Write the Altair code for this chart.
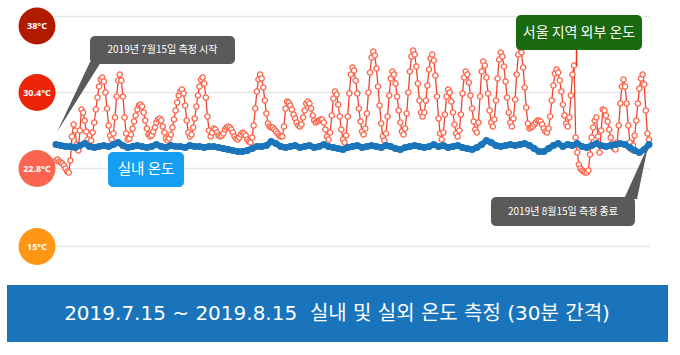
import altair as alt
import pandas as pd

KR = "Noto Sans CJK KR"
BANNER_FONT = "'DejaVu Sans', 'Noto Sans CJK KR'"

# Outdoor (Seoul) temperature, one reading per 2 hours
outdoor_temp = [
    23.6, 23.7, 23.5, 23.4, 23.3, 23.1, 22.8, 22.5, 22.4, 23.6, 26.0, 27.2,
    26.6, 25.2, 24.6, 26.6, 28.7, 28.4, 27.6, 26.5, 25.7, 25.4, 25.6, 26.4,
    27.4, 28.7, 29.9, 31.0, 31.7, 31.9, 31.5, 30.4, 28.8, 27.1, 26.1, 25.7,
    26.3, 27.9, 30.0, 31.6, 32.2, 31.6, 30.0, 27.9, 26.3, 25.7, 25.8, 26.2,
    26.8, 27.5, 28.1, 28.7, 29.1, 29.2, 29.0, 28.4, 27.6, 26.8, 26.2, 26.0,
    26.1, 26.5, 26.9, 27.4, 27.7, 27.8, 27.6, 27.0, 26.4, 25.8, 25.6, 25.8,
    26.2, 26.9, 27.7, 28.6, 29.4, 30.1, 30.5, 30.7, 30.3, 29.1, 27.6, 26.4,
    26.0, 26.2, 26.9, 27.8, 29.0, 30.1, 31.0, 31.7, 31.9, 31.3, 29.9, 28.0,
    26.6, 26.0, 26.4, 26.8, 26.7, 26.4, 26.1, 26.0, 26.1, 26.3, 26.7, 26.9,
    27.0, 26.9, 26.7, 26.4, 26.0, 25.8, 25.7, 25.9, 26.2, 26.4, 26.3, 26.1,
    25.7, 25.5, 25.4, 25.9, 27.1, 28.8, 30.5, 31.7, 32.2, 31.8, 30.9, 29.6,
    28.3, 27.3, 27.0, 26.9, 26.9, 26.7, 26.5, 26.3, 26.1, 26.0, 26.0, 27.0,
    28.8, 29.5, 29.4, 29.1, 28.7, 28.2, 27.8, 27.4, 27.1, 27.0, 27.2, 27.9,
    28.6, 29.3, 29.5, 29.3, 28.8, 28.1, 27.6, 27.4, 27.5, 27.6, 27.7, 27.7,
    27.4, 26.7, 26.0, 25.7, 26.4, 28.1, 29.8, 30.5, 30.2, 29.2, 28.0, 26.7,
    25.7, 25.4, 26.1, 28.0, 30.3, 32.2, 32.9, 32.6, 31.6, 30.3, 28.8, 27.5,
    26.5, 26.2, 26.8, 28.3, 30.4, 32.4, 33.9, 34.5, 34.1, 32.8, 31.0, 29.1,
    27.3, 26.0, 25.6, 26.3, 28.0, 30.1, 31.8, 32.5, 32.2, 31.3, 30.0, 28.6,
    27.4, 26.5, 26.2, 26.8, 28.3, 30.4, 32.5, 34.0, 34.6, 34.2, 33.0, 31.3,
    29.6, 28.4, 28.0, 28.4, 29.6, 31.1, 32.7, 33.8, 34.2, 33.6, 32.1, 30.0,
    27.8, 26.3, 25.7, 26.4, 28.2, 30.0, 30.7, 30.4, 29.5, 28.4, 27.2, 26.3,
    26.0, 26.6, 28.2, 30.3, 31.9, 32.5, 32.2, 31.4, 30.1, 28.8, 27.5, 26.7,
    26.4, 27.4, 30.0, 32.5, 33.5, 33.1, 31.9, 30.3, 28.6, 27.4, 27.0, 27.7,
    29.6, 31.8, 33.7, 34.4, 34.0, 33.0, 31.5, 29.9, 28.4, 27.4, 27.0, 27.8,
    29.7, 32.2, 34.2, 34.9, 34.4, 32.9, 30.9, 28.9, 27.3, 26.8, 26.9, 27.0,
    27.2, 27.4, 27.6, 27.6, 27.5, 27.2, 26.8, 26.5, 26.4, 26.8, 28.0, 29.6,
    31.1, 32.3, 32.7, 32.4, 31.6, 30.5, 29.2, 28.1, 27.3, 27.0, 27.9, 30.1,
    32.2, 33.1, 25.9, 24.4, 23.2, 22.8, 22.6, 22.5, 22.4, 22.4, 22.6, 24.2,
    25.9, 26.9, 27.6, 27.9, 26.0, 24.4, 26.6, 28.7, 28.6, 28.1, 27.5, 26.7,
    25.9, 25.3, 24.8, 24.7, 25.4, 27.1, 29.3, 31.0, 31.7, 31.0, 29.3, 27.1,
    25.4, 24.7, 25.1, 26.1, 27.6, 29.3, 30.8, 31.8, 32.2, 31.2, 28.6, 26.3,
    25.7,
]

# Indoor temperature, one reading per 6 hours
indoor_temp = [
    25.2, 25.1, 25.0, 25.0, 24.9, 25.1, 25.3, 25.0, 24.9, 25.0,
    25.1, 25.0, 25.2, 25.4, 25.1, 24.9, 25.0, 25.1,
    25.0, 24.9, 25.0, 25.2, 25.0, 24.9, 25.1, 25.0, 25.0, 24.9, 25.1, 25.0, 25.0,
    24.9, 25.0, 25.0, 24.9, 24.8, 24.7, 24.6, 24.5,
    24.5, 24.6, 24.8, 25.0,
    25.0, 25.1, 25.5, 25.3, 25.0, 24.9, 25.0, 25.1, 24.9,
    25.0, 25.1, 24.9, 25.0, 25.2, 25.0, 24.9, 24.8, 24.7,
    24.9, 25.0, 25.1, 24.9, 25.0, 25.1, 25.0, 24.9, 25.1, 25.0, 24.8, 24.7,
    24.9, 25.0, 25.1, 25.0, 24.9, 25.0, 25.2, 25.0, 25.1, 24.9, 25.0, 25.1, 24.9, 24.8, 24.7,
    24.9, 25.2, 25.6, 25.4, 25.1, 25.0,
    25.1, 25.2, 25.1, 25.2, 25.3, 25.1, 24.8, 24.5,
    24.5, 24.8, 25.1, 25.3, 25.0, 25.2, 25.1, 25.3, 25.0, 24.9, 25.1, 25.3, 25.1,
    25.0, 25.1, 25.2, 25.3, 25.2, 24.9, 24.6, 24.4, 24.7, 25.2,
]

grid_temps = [15, 22.8, 30.4, 38]
grid_labels = ["15°C", "22.8°C", "30.4°C", "38°C"]
grid_colors = ["#ff9616", "#fa6450", "#ec2408", "#b21a00"]

out_df = pd.DataFrame({"h": [2 * i for i in range(len(outdoor_temp))], "t": outdoor_temp})
in_df = pd.DataFrame({"h": [6 * j for j in range(len(indoor_temp))], "t": indoor_temp})
lab_df = pd.DataFrame({"t": grid_temps, "label": grid_labels, "color": grid_colors})
one = pd.DataFrame({"k": [0]})

xs = alt.Scale(domain=[0, 744], range=[56, 649])
ys = alt.Scale(domain=[15, 38], range=[246.5, 16.5])
X = alt.X("h:Q", scale=xs, axis=None)
Y = alt.Y("t:Q", scale=ys, axis=None)

grid = alt.Chart(lab_df).mark_rule(color="#e6e6e6", strokeWidth=1.5).encode(
    y=Y, x=alt.value(55), x2=alt.value(650))

circ_lo = alt.Chart(lab_df).transform_filter("datum.t < 38").mark_circle(size=1369, opacity=1).encode(
    x=alt.value(37), y=Y, color=alt.Color("color:N", scale=None))
txt_lo = alt.Chart(lab_df).transform_filter("datum.t < 38").mark_text(
    color="white", fontSize=9, fontWeight="bold", font="Noto Sans", align="center", baseline="middle").encode(
    x=alt.value(37), y=Y, text="label:N")
circ_hi = alt.Chart(lab_df).transform_filter("datum.t >= 38").mark_circle(size=1369, opacity=1, yOffset=9.5).encode(
    x=alt.value(37), y=Y, color=alt.Color("color:N", scale=None))
txt_hi = alt.Chart(lab_df).transform_filter("datum.t >= 38").mark_text(
    color="white", fontSize=9, fontWeight="bold", font="Noto Sans", align="center", baseline="middle", yOffset=9.5).encode(
    x=alt.value(37), y=Y, text="label:N")

out_line = alt.Chart(out_df).mark_line(color="#ec4530", strokeWidth=1.3).encode(x=X, y=Y)
out_pts = alt.Chart(out_df).mark_point(shape="circle", filled=False, fill="white", fillOpacity=1,
                                       stroke="#ff6347", strokeWidth=1.3, size=28, opacity=1).encode(x=X, y=Y)
in_line = alt.Chart(in_df).mark_line(color="#1b75bb", strokeWidth=6).encode(x=X, y=Y)
in_pts = alt.Chart(in_df).mark_circle(color="#1b75bb", size=50, opacity=1).encode(x=X, y=Y)


def box(x1, x2, y1, y2, color, r=5):
    return alt.Chart(one).mark_rect(color=color, cornerRadius=r).encode(
        x=alt.value(x1), x2=alt.value(x2), y=alt.value(y1), y2=alt.value(y2))


def label(x, y, text, size, font=KR):
    return alt.Chart(one).mark_text(text=text, fontSize=size, font=font, color="white",
                                    align="center", baseline="middle").encode(x=alt.value(x), y=alt.value(y))


def wedge(path, color):
    return alt.Chart(one).mark_point(shape=path, size=4, filled=True, color=color,
                                     opacity=1, strokeWidth=0).encode(x=alt.value(0), y=alt.value(0))


GRAY = "#5a5a5a"
ann = [
    wedge("M90,62 L101,62 L57,132 Z", GRAY),
    box(90, 235, 36, 64, GRAY),
    label(162.5, 50, "2019년 7월15일 측정 시작", 10),
    wedge("M624,199 L637,199 L648,146 Z", GRAY),
    box(491, 635, 197, 226, GRAY),
    label(563, 211.5, "2019년 8월15일 측정 종료", 10),
    box(108, 184, 152, 187, "#159ff3"),
    label(146, 169.5, "실내 온도", 14.5),
    alt.Chart(one).mark_rule(color="#f0301e", strokeWidth=1.5).encode(
        x=alt.value(576.5), y=alt.value(48), y2=alt.value(66)),
    box(516, 642, 15, 50, "#1a6a10"),
    label(579, 32.5, "서울 지역 외부 온도", 14),
    box(7, 668, 285, 342, "#1a74bb", r=0),
    label(337, 313.5, "2019.7.15 ~ 2019.8.15\u00a0\u00a0실내 및 실외 온도 측정 (30분 간격)", 20, BANNER_FONT),
]

chart = alt.layer(
    grid, out_line, out_pts, in_line, in_pts,
    circ_lo, txt_lo, circ_hi, txt_hi, *ann
).properties(
    width=680, height=355, padding=0, autosize=alt.AutoSizeParams(type="none"),
    background="white"
).configure_view(stroke=None)

chart.save("out.html", embed_options={"renderer": "svg", "actions": False})
